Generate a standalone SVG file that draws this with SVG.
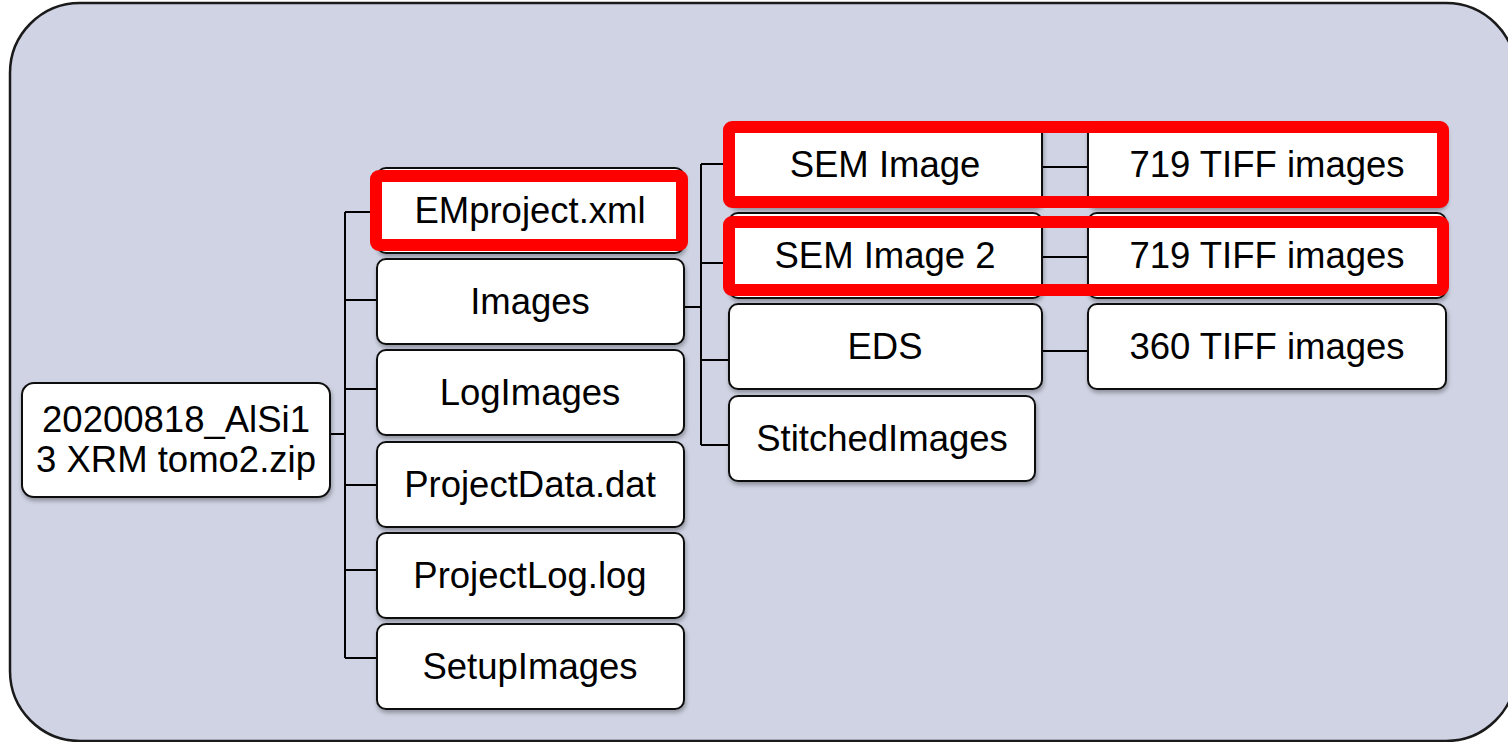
<svg xmlns="http://www.w3.org/2000/svg" width="1508" height="742" viewBox="0 0 1508 742">
  <defs>
    <filter id="shadow" x="-10%" y="-20%" width="120%" height="150%">
      <feDropShadow dx="1" dy="3" stdDeviation="2" flood-color="#000" flood-opacity="0.3"/>
    </filter>
    <style>
      .panel { fill: #cfd3e3; stroke: #1a1a1a; stroke-width: 2.5; }
      .node rect.box { fill: #ffffff; stroke: #111111; stroke-width: 2; filter: url(#shadow); }
      .node text { font-family: "Liberation Sans", Arial, sans-serif; font-size: 36.5px; fill: #000000; text-anchor: middle; }
      .conn { fill: none; stroke: #000000; stroke-width: 2; }
      .hl { fill: none; stroke: #ff0000; stroke-width: 12; }
    </style>
  </defs>

  <!-- background panel -->
  <rect class="panel" x="10" y="3" width="1506" height="738" rx="70" ry="70"/>

  <!-- connectors -->
  <g id="connectors" class="conn">
    <!-- root to first level -->
    <path d="M330 434 H345"/>
    <path d="M345 212 V658"/>
    <path d="M345 212 H377 M345 300 H377 M345 389 H377 M345 485 H377 M345 570 H377 M345 658 H377"/>
    <!-- Images to second level -->
    <path d="M684 307 H701"/>
    <path d="M701 164 V445"/>
    <path d="M701 164 H729 M701 263 H729 M701 360 H729 M701 445 H729"/>
    <!-- second level to image sets -->
    <path d="M1042 167 H1088 M1042 257 H1088 M1042 351 H1088"/>
  </g>

  <!-- root -->
  <g id="node-root" class="node">
    <rect class="box" x="22" y="383" width="308" height="114" rx="12"/>
    <text x="176" y="432">20200818_AlSi1</text>
    <text x="176" y="472">3 XRM tomo2.zip</text>
  </g>

  <!-- first level -->
  <g id="node-emproject" class="node">
    <rect class="box" x="377" y="168" width="307" height="85" rx="9"/>
    <text x="530" y="223">EMproject.xml</text>
  </g>
  <g id="node-images" class="node">
    <rect class="box" x="377" y="259" width="307" height="85" rx="9"/>
    <text x="530" y="314">Images</text>
  </g>
  <g id="node-logimages" class="node">
    <rect class="box" x="377" y="350" width="307" height="85" rx="9"/>
    <text x="530" y="405">LogImages</text>
  </g>
  <g id="node-projectdata" class="node">
    <rect class="box" x="377" y="442" width="307" height="85" rx="9"/>
    <text x="530" y="497">ProjectData.dat</text>
  </g>
  <g id="node-projectlog" class="node">
    <rect class="box" x="377" y="533" width="307" height="85" rx="9"/>
    <text x="530" y="588">ProjectLog.log</text>
  </g>
  <g id="node-setupimages" class="node">
    <rect class="box" x="377" y="624" width="307" height="85" rx="9"/>
    <text x="530" y="679">SetupImages</text>
  </g>

  <!-- second level -->
  <g id="node-sem1" class="node">
    <rect class="box" x="729" y="122" width="313" height="85" rx="9"/>
    <text x="885" y="177">SEM Image</text>
  </g>
  <g id="node-sem2" class="node">
    <rect class="box" x="729" y="213" width="313" height="85" rx="9"/>
    <text x="885" y="268">SEM Image 2</text>
  </g>
  <g id="node-eds" class="node">
    <rect class="box" x="729" y="304" width="313" height="85" rx="9"/>
    <text x="885" y="359">EDS</text>
  </g>
  <g id="node-stitched" class="node">
    <rect class="box" x="729" y="396" width="306" height="85" rx="9"/>
    <text x="882" y="451">StitchedImages</text>
  </g>

  <!-- image sets -->
  <g id="node-tiff1" class="node">
    <rect class="box" x="1088" y="122" width="358" height="85" rx="9"/>
    <text x="1267" y="177">719 TIFF images</text>
  </g>
  <g id="node-tiff2" class="node">
    <rect class="box" x="1088" y="213" width="358" height="85" rx="9"/>
    <text x="1267" y="268">719 TIFF images</text>
  </g>
  <g id="node-tiff3" class="node">
    <rect class="box" x="1088" y="304" width="358" height="85" rx="9"/>
    <text x="1267" y="359">360 TIFF images</text>
  </g>

  <!-- red highlight frames -->
  <g id="highlights" class="hl">
    <rect x="376" y="176" width="306" height="69" rx="3"/>
    <rect x="729" y="127" width="714" height="75" rx="3"/>
    <rect x="729" y="222" width="714" height="68" rx="3"/>
  </g>
</svg>
